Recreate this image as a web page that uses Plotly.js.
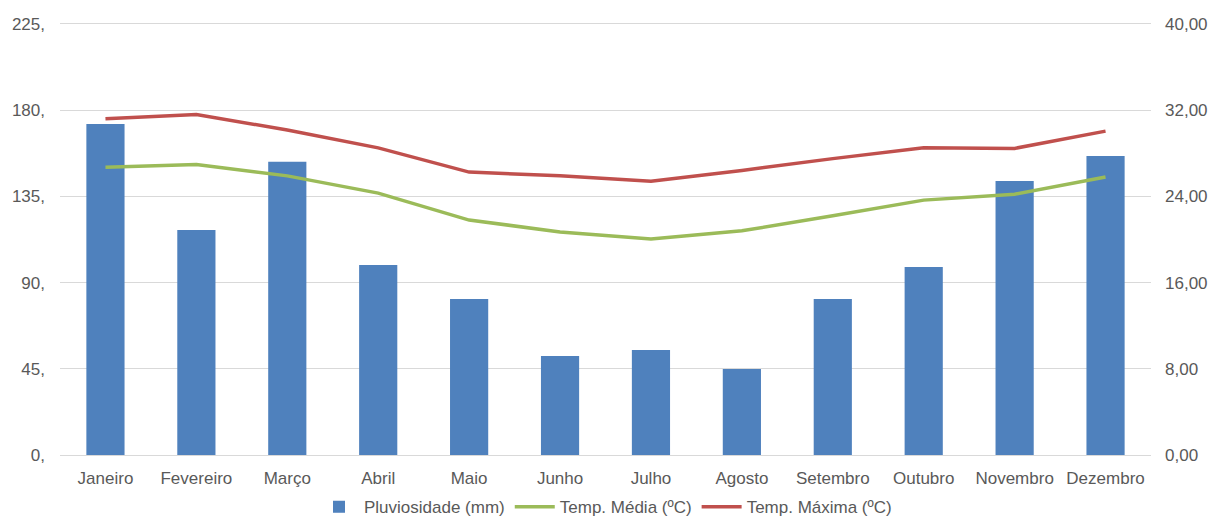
<!DOCTYPE html>
<html>
<head>
<meta charset="utf-8">
<script src="https://cdn.plot.ly/plotly-3.0.1.min.js"></script>
<style>html,body{margin:0;padding:0;background:#fff;}#chart{width:1213px;height:517px;}</style>
</head>
<body>
<div id="chart"></div>
<script>
const months = ["Janeiro","Fevereiro","Março","Abril","Maio","Junho","Julho","Agosto","Setembro","Outubro","Novembro","Dezembro"];
const pluviosidade = [172.8, 117.5, 153.0, 99.2, 81.4, 51.7, 54.8, 44.9, 81.4, 98.1, 143.0, 156.1];
const tempMedia = [26.7, 26.95, 25.9, 24.3, 21.8, 20.7, 20.05, 20.8, 22.2, 23.65, 24.2, 25.8];
const tempMaxima = [31.2, 31.6, 30.15, 28.5, 26.25, 25.9, 25.4, 26.4, 27.5, 28.5, 28.45, 30.05];
const leftTicks = [0, 45, 90, 135, 180, 225];
const leftTickText = ["0,", "45,", "90,", "135,", "180,", "225,"];
const rightTicks = [0, 8, 16, 24, 32, 40];
const rightTickText = ["0,00", "8,00", "16,00", "24,00", "32,00", "40,00"];

const font = {family: "Liberation Sans, Arial, sans-serif", size: 17, color: "#595959"};

const data = [
  {type: "bar", name: "Pluviosidade (mm)", x: months, y: pluviosidade,
   marker: {color: "#4F81BD"}, yaxis: "y"},
  {type: "scatter", mode: "lines", name: "Temp. Média (ºC)", x: months, y: tempMedia,
   line: {color: "#9BBB59", width: 3.5}, yaxis: "y2"},
  {type: "scatter", mode: "lines", name: "Temp. Máxima (ºC)", x: months, y: tempMaxima,
   line: {color: "#C0504D", width: 3.5}, yaxis: "y2"}
];

const layout = {
  width: 1213, height: 517,
  margin: {l: 60, r: 62, t: 22, b: 62, autoexpand: false},
  paper_bgcolor: "#fff", plot_bgcolor: "#fff",
  font: font,
  bargap: 0.58,
  showlegend: true,
  legend: {orientation: "h", x: 0.5, xanchor: "center", y: -0.079, yanchor: "top",
           font: {family: font.family, size: 17, color: "#595959"}, traceorder: "normal",
           itemwidth: 40, tracegroupgap: 0},
  xaxis: {type: "category", tickfont: font, showgrid: false, zeroline: false, automargin: false,
          showline: true, linecolor: "#D9D9D9", linewidth: 1, ticks: "", fixedrange: true,
          ticklabelstandoff: 8},
  yaxis: {range: [0, 226], tickvals: leftTicks, ticktext: leftTickText, tickfont: font, automargin: false,
          showgrid: true, gridcolor: "#D9D9D9", gridwidth: 1, zeroline: false, showline: false,
          ticks: "", ticklabelstandoff: 14},
  yaxis2: {range: [0, 40 * 226 / 225], tickvals: rightTicks, ticktext: rightTickText, tickfont: font, automargin: false,
           overlaying: "y", side: "right", showgrid: false, zeroline: false, showline: false,
           ticks: "", ticklabelstandoff: 13}
};

Plotly.newPlot("chart", data, layout, {displayModeBar: false, staticPlot: true});
</script>
</body>
</html>
